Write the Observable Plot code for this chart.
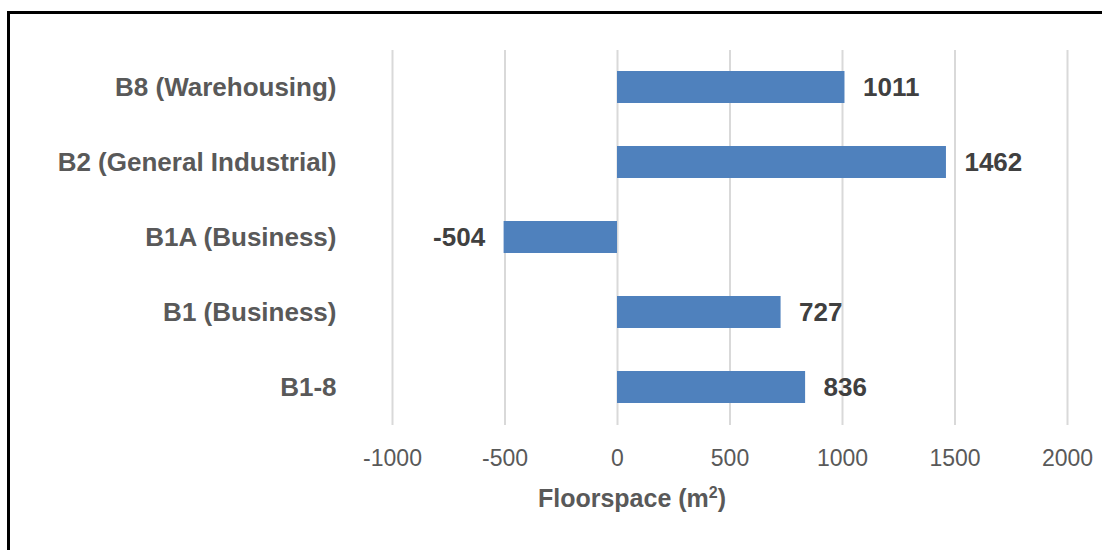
<!DOCTYPE html>
<html>
<head>
<meta charset="utf-8">
<script src="https://cdn.jsdelivr.net/npm/d3@7"></script>
<script src="https://cdn.jsdelivr.net/npm/@observablehq/plot@0.6"></script>
<style>
  html, body { margin: 0; padding: 0; background: #fff; }
  body { width: 1102px; height: 550px; position: relative; overflow: hidden; font-family: "Liberation Sans", Arial, sans-serif; }
  #frame { position: absolute; left: 7px; top: 11px; width: 1200px; height: 600px; border-left: 3px solid #000; border-top: 3px solid #000; box-sizing: border-box; }
  #chart { position: absolute; left: 0; top: 0; }
  #xlabel { position: absolute; left: 632px; top: 484px; transform: translateX(-50%); font-size: 25px; font-weight: bold; color: #595959; white-space: nowrap; }
  #xlabel sup { font-size: 16px; vertical-align: 9px; line-height: 0; }
</style>
</head>
<body>
<div id="frame"></div>
<div id="chart"></div>
<div id="xlabel">Floorspace (m<sup>2</sup>)</div>
<script>
const categories = ["B8 (Warehousing)", "B2 (General Industrial)", "B1A (Business)", "B1 (Business)", "B1-8"];
const values = [1011, 1462, -504, 727, 836];
const xTicks = [-1000, -500, 0, 500, 1000, 1500, 2000];

const data = categories.map((c, i) => ({cat: c, value: values[i]}));

const chart = Plot.plot({
  width: 1102,
  height: 550,
  marginLeft: 392,
  marginRight: 35,
  marginTop: 50,
  marginBottom: 125,
  style: {fontFamily: "'Liberation Sans', Arial, sans-serif", background: "transparent"},
  x: {domain: [-1000, 2000]},
  y: {domain: categories, paddingInner: 0.57, paddingOuter: 0.285},
  marks: [
    Plot.gridX(xTicks, {stroke: "#d9d9d9", strokeWidth: 2, strokeOpacity: 1}),
    Plot.barX(data, {x: "value", y: "cat", fill: "#4f81bd"}),
    Plot.text(data.filter(d => d.value >= 0), {x: "value", y: "cat", text: d => String(d.value), textAnchor: "start", dx: 18, fontSize: 26, fontWeight: "bold", fill: "#404040"}),
    Plot.text(data.filter(d => d.value < 0), {x: "value", y: "cat", text: d => String(d.value), textAnchor: "end", dx: -19, fontSize: 26, fontWeight: "bold", fill: "#404040"}),
    Plot.axisX(xTicks, {tickSize: 0, tickPadding: 24, fontSize: 23, color: "#595959", label: null, tickFormat: d => String(d)}),
    Plot.axisY({tickSize: 0, tickPadding: 56, fontSize: 26, fontWeight: "bold", color: "#595959", label: null})
  ]
});
document.getElementById("chart").appendChild(chart);
</script>
</body>
</html>
